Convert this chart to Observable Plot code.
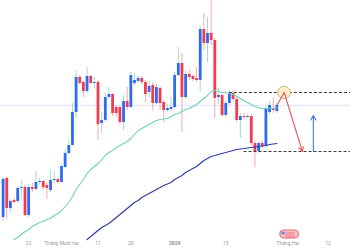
<!DOCTYPE html>
<html><head><meta charset="utf-8">
<script src="https://cdn.jsdelivr.net/npm/d3@7"></script>
<script src="https://cdn.jsdelivr.net/npm/@observablehq/plot@0.6"></script>
<style>html,body{margin:0;padding:0;background:#fff;overflow:hidden}svg{display:block}</style>
</head><body><div id="chart"></div>
<script>
// Daily candles, 2023-11-15 .. 2024-01-29
const startDay = "2023-11-15";
const open = [35980,38320,36520,37000,36940,37720,37780,36100,37780,37660,38080,38140,37900,37600,38200,38260,
  38080,38980,39820,40300,42280,44380,44080,43540,44440,44020,44080,41620,41800,43180,43360,42580,42580,41680,42940,42580,44020,44140,44320,44080,43480,43900,42820,43720,42880,42400,42460,
  42580,44500,45220,43180,44560,44440,44320,44200,47260,46420,47020,46600,43180,43300,42100,42820,43420,43060,41800,42040,41980,42040,40420,39940,40420,40240,42280,42520,42340];
const high = [38380,38380,37060,37120,37840,38200,37900,37960,38020,38740,38320,38200,38020,38800,38740,38320,
  39160,40060,40600,42820,44800,44500,44140,44980,44500,44380,44200,42280,43420,43780,43420,42700,42640,43300,43780,44680,44620,44440,44440,44200,44140,44080,43960,43840,43000,42760,43180,
  44680,46180,45820,44800,44800,44560,44980,47440,48220,47980,49000,46720,43720,43360,42940,43600,43600,43180,42220,42220,42160,42160,40540,40480,40540,42700,42940,43180,42820];
const low = [35740,35860,36280,36820,36820,37060,36040,35980,37480,37600,37900,37600,37060,37480,38020,38020,
  38020,38920,39760,40240,41920,43900,43180,43420,43960,43720,40600,41020,41680,43060,42040,42040,41500,41200,42400,42520,43900,44020,43960,42880,43180,42400,42760,42400,41680,42280,42340,
  42520,44440,41080,43060,44200,44140,44080,43480,46000,45280,46300,41920,42760,41980,41980,42700,42940,41680,40720,41860,41920,40240,38980,39820,40120,40120,42160,42220,42220];
const close = [38260,36520,36940,36880,37720,37780,36100,37780,37660,38080,38140,37780,37720,38200,38260,38080,
  39040,39820,40300,42280,44380,44020,43540,44440,44020,44080,41560,41800,43180,43360,42220,42220,41680,42940,42580,44500,44200,44320,44080,43360,43840,42820,43780,42820,42400,42520,42580,
  44500,45220,43180,44560,44380,44260,44200,47260,46420,47020,46600,43120,43300,42100,42820,43420,43060,41800,42040,41980,42040,40420,39940,40420,40240,42520,42700,42400,42700];

// Moving averages
const fastStart = "2023-11-18";
const fastMA = [34660,34780,34960,35140,35260,35440,35560,35680,35740,35860,35920,36100,36220,
  36400,36640,36880,37240,37660,37960,38260,38620,38860,39040,
  39220,39460,39700,39880,40000,40180,40300,40420,40540,40720,
  40960,41200,41320,41440,41560,41680,41800,41860,41890,41920,
  42040,42160,42220,42340,42460,42520,42640,42760,42940,43120,
  43300,43540,43600,43540,43480,43480,43420,43360,43240,43120,
  43000,42880,42760,42640,42580,42520,42520,42520,42520,42580];
const slowStart = "2023-12-08";
const slowMA = [34660,34840,35020,
  35200,35380,35500,35620,35800,35980,36160,36340,36520,36700,
  36880,37000,37180,37300,37420,37540,37660,37780,37900,37990,
  38080,38260,38380,38500,38680,38800,38920,39040,39220,39400,
  39520,39640,39700,39760,39820,39880,39940,40000,40060,40090,
  40120,40150,40180,40210,40240,40270,40300,40360,40390,40420];

// Annotations
const levelNames = ["resistance", "support"];
const levelValues = [43480, 39940];
const levelStarts = ["2024-01-16", "2024-01-20"];
const projDates = ["2024-01-29", "2024-01-31", "2024-02-05"];
const projValues = [42700, 43480, 39940];
const upArrowDate = "2024-02-08";
const upArrowValues = [39940, 42100];
const eventDate = ["2024-01-29T22:00", "2024-02-04T02:00"];

// Axis ticks
const tickDates = ["2023-11-22","2023-12-01","2023-12-11","2023-12-20","2024-01-01","2024-01-15","2024-02-01","2024-02-12"];
const tickLabels = ["22","Tháng Mười hai","11","20","2024","15","Tháng Hai","12"];

const xDomain = [new Date(Date.UTC(2023,10,14,6,54)), new Date(Date.UTC(2024,1,18,4,16))];
const dates = d3.utcDay.range(new Date(startDay), d3.utcDay.offset(new Date(startDay), open.length));
const candles = dates.map((d,i)=>({date:d, open:open[i], high:high[i], low:low[i], close:close[i]}));
const ups = candles.filter(d=>d.close>=d.open);
const downs = candles.filter(d=>d.close<d.open);
const fast = fastMA.map((v,i)=>({date:d3.utcDay.offset(new Date(fastStart), i), v}));
const slow = slowMA.map((v,i)=>({date:d3.utcDay.offset(new Date(slowStart), i), v}));
const levels = levelNames.map((n,i)=>({name:n, value:levelValues[i], start:new Date(levelStarts[i]), end:xDomain[1]}));
const proj = projDates.map((d,i)=>({date:new Date(d), v:projValues[i]}));
const lastClose = close[close.length-1];
const ticks = tickDates.map((d,i)=>({date:new Date(d), label:tickLabels[i], bold: tickLabels[i]==="2024"}));
const ev0 = new Date(eventDate[0]+"Z"), ev1 = new Date(eventDate[1]+"Z");
const hr = h => d3.utcHour.offset(ev0, h);

const chart = Plot.plot({
  width: 350, height: 250, margin: 0,
  x: {type: "utc", domain: xDomain, axis: null},
  y: {domain: [34000, 49000], axis: null},
  style: {background: "#fff", fontFamily: "Roboto, sans-serif"},
  marks: [
    Plot.ruleY([lastClose], {stroke: "#e7eafa", strokeWidth: 1.6}),
    Plot.ruleX(ups, {x: "date", y1: "low", y2: "high", stroke: "#a3dccb", strokeWidth: 1}),
    Plot.ruleX(downs, {x: "date", y1: "low", y2: "high", stroke: "#f6a9b1", strokeWidth: 1}),
    Plot.ruleX(ups, {x: "date", y1: "open", y2: "close", stroke: "#2e6bf3", strokeWidth: 2.8}),
    Plot.ruleX(downs, {x: "date", y1: "open", y2: "close", stroke: "#f03c4e", strokeWidth: 2.8}),
    Plot.line(fast, {x: "date", y: "v", stroke: "#6dd3b6", strokeWidth: 1.1}),
    Plot.line(slow, {x: "date", y: "v", stroke: "#2f3ea2", strokeWidth: 1.2}),
    Plot.ruleY(levels, {y: "value", x1: "start", x2: "end", stroke: "#3c3c3c", strokeWidth: 1, strokeDasharray: "3,2"}),
    Plot.dot([proj[1]], {x: "date", y: "v", r: 6.3, fill: "#fbefc6", stroke: "#c6b88e", strokeWidth: 1}),
    Plot.link([{a: proj[0], b: proj[1]}], {x1: d=>d.a.date, y1: d=>d.a.v, x2: d=>d.b.date, y2: d=>d.b.v, stroke: "#ef5560", strokeWidth: 1.1}),
    Plot.arrow([{a: proj[1], b: proj[2]}], {x1: d=>d.a.date, y1: d=>d.a.v, x2: d=>d.b.date, y2: d=>d.b.v, stroke: "#ef5560", strokeWidth: 1.1, headLength: 7, headAngle: 55}),
    Plot.arrow([{d: new Date(upArrowDate), a: upArrowValues[0], b: upArrowValues[1]}], {x1: "d", y1: "a", x2: "d", y2: "b", stroke: "#4677e8", strokeWidth: 1.1, headLength: 7, headAngle: 60}),
    Plot.rect([{x1: ev0, x2: ev1}], {x1: "x1", x2: "x2", y1: 34720, y2: 35200, fill: "#f8c6ca", stroke: "#ee5f6c", strokeWidth: 1, rx: 4}),
    Plot.rect([{x1: hr(12), x2: hr(32)}], {x1: "x1", x2: "x2", y1: 34930, y2: 35100, fill: "#5a8cf0"}),
    Plot.ruleY([35050, 34930, 34810], {x1: hr(36), x2: hr(100), stroke: "#ee5f6c", strokeWidth: 0.8}),
    Plot.text(ticks.filter(d=>!d.bold), {x: "date", text: "label", frameAnchor: "bottom", dy: -6, fontSize: 5, fill: "#959aa5"}),
    Plot.text(ticks.filter(d=>d.bold), {x: "date", text: "label", frameAnchor: "bottom", dy: -6, fontSize: 5, fontWeight: 700, fill: "#8a8f9a"})
  ]
});
document.getElementById("chart").append(chart);
</script>
</body></html>
